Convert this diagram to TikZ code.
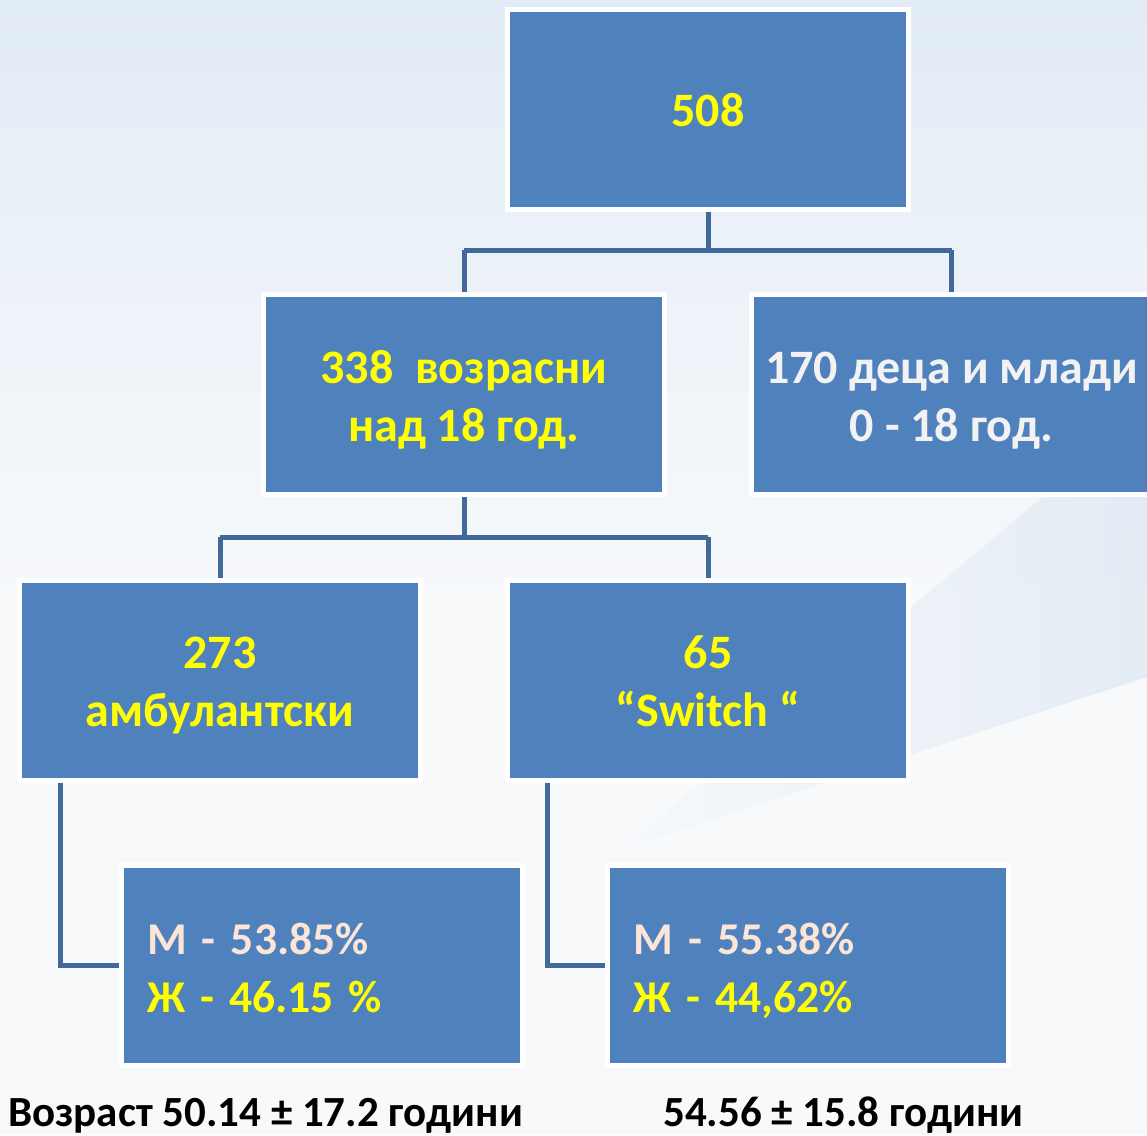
\documentclass[tikz,border=0pt]{standalone}
\usepackage{fontspec}
\setmainfont{Carlito}
\usetikzlibrary{calc}
\definecolor{boxblue}{HTML}{4F81BD}
\definecolor{connblue}{HTML}{41699A}
\definecolor{txtyellow}{HTML}{FFFF00}
\definecolor{txtwhite}{HTML}{F2F2F2}
\definecolor{txtpeach}{HTML}{FCE4D6}
\definecolor{bgTop}{HTML}{E2ECF6}
\definecolor{bgBase}{HTML}{F7F9FB}
\definecolor{swoosh}{HTML}{DCE7F2}
\pgfdeclarelayer{bglayer}
\pgfdeclarelayer{lines}
\pgfsetlayers{bglayer,lines,main}
\tikzset{
  box/.style={rectangle, fill=boxblue, draw=white, line width=5pt,
    minimum width=401pt, minimum height=200pt, inner sep=0pt,
    font=\fontsize{48}{58}\selectfont\bfseries, align=center,
    text height=93pt, text depth=0pt},
  onebox/.style={box, text height=33pt},
  leftbox/.style={box, font=\fontsize{45.5}{58}\selectfont\bfseries,
    align=left, text width=349pt, inner xsep=26pt,
    text height=0pt, text depth=23pt},
  conn/.style={draw=connblue, line width=5pt},
  caption/.style={font=\fontsize{43}{52}\selectfont\bfseries, text=black, inner sep=0pt}
}
\begin{document}
\begin{tikzpicture}[x=1pt,y=-1pt]
\useasboundingbox (0,0) rectangle (1147,1135);
\begin{pgfonlayer}{bglayer}
  \fill[bgBase] (0,0) rectangle (1147,1135);
  \shade[top color=bgTop, bottom color=bgBase] (0,0) rectangle (1147,600);
  \shade[left color=bgBase, right color=swoosh, opacity=0.7]
     (620,850) -- (1147,410) -- (1147,677) -- cycle;
\end{pgfonlayer}
\begin{scope}
\clip (0,0) rectangle (1147,1135);
\node[onebox, text=txtyellow] (top) at (708,109.5) {508};
\node[box, text=txtyellow] (adult) at (464,394.5) {338\ \ возрасни\\над 18 год.};
\node[box, text=txtwhite] (child) at (951.5,394.5) {170 деца и млади\\0 - 18 год.};
\node[box, text=txtyellow] (amb) at (220,680) {273\\амбулантски};
\node[box, text=txtyellow] (sw) at (708,680) {65\\“Switch “};
\node[leftbox] (ml) at (321.5,965.5) {\textcolor{txtpeach}{М - 53.85\%}\\\textcolor{txtyellow}{Ж - 46.15 \%}};
\node[leftbox] (mr) at (808,965.5) {\textcolor{txtpeach}{М - 55.38\%}\\\textcolor{txtyellow}{Ж - 44,62\%}};
\end{scope}
\begin{pgfonlayer}{lines}
  \draw[conn] (top.south) -- (top.south |- 0,250) coordinate (j1);
  \draw[conn] (j1 -| adult.north) -- (j1 -| child.north);
  \draw[conn] (j1 -| adult.north) -- (adult.north);
  \draw[conn] (j1 -| child.north) -- (child.north);
  \draw[conn] (adult.south) -- (adult.south |- 0,537) coordinate (j2);
  \draw[conn] (j2 -| amb.north) -- (j2 -| sw.north);
  \draw[conn] (j2 -| amb.north) -- (amb.north);
  \draw[conn] (j2 -| sw.north) -- (sw.north);
  \draw[conn] (amb.south -| 60,0) |- (ml.west);
  \draw[conn] (sw.south -| 547,0) |- (mr.west);
\end{pgfonlayer}
\node[caption, anchor=base west] (capl) at (8,1126) {Возраст 50.14 ± 17.2 години};
\node[caption, anchor=base] (capr) at (843.5,1126) {54.56 ± 15.8 години};
\end{tikzpicture}
\end{document}
